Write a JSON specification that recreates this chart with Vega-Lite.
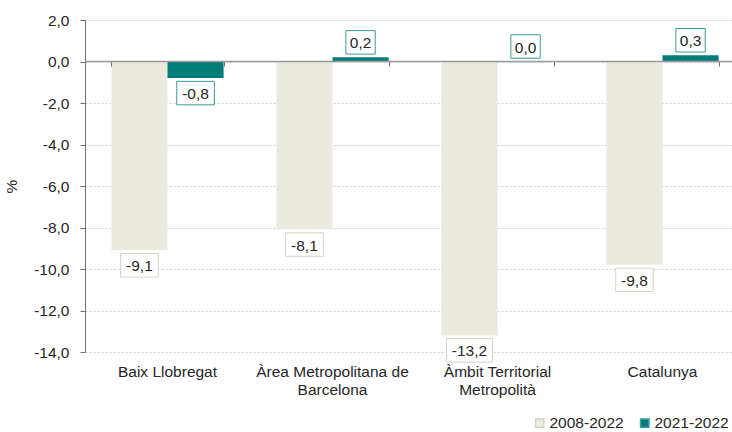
{
  "$schema": "https://vega.github.io/schema/vega-lite/v6.json",
  "autosize": "none",
  "width": 647,
  "height": 332,
  "padding": {"left": 85, "top": 20, "right": 0, "bottom": 80},
  "background": "white",
  "config": {
    "locale": {"number": {"decimal": ",", "thousands": ".", "grouping": [3], "currency": ["", " €"], "minus": "-"}},
    "font": "Liberation Sans",
    "view": {"stroke": null}
  },
  "resolve": {"axis": {"x": "independent"}},
  "data": {
    "values": [
      {"territori": "Baix Llobregat", "periode": "2008-2022", "value": -9.1},
      {"territori": "Baix Llobregat", "periode": "2021-2022", "value": -0.8},
      {"territori": "Àrea Metropolitana de Barcelona", "periode": "2008-2022", "value": -8.1},
      {"territori": "Àrea Metropolitana de Barcelona", "periode": "2021-2022", "value": 0.2},
      {"territori": "Àmbit Territorial Metropolità", "periode": "2008-2022", "value": -13.2},
      {"territori": "Àmbit Territorial Metropolità", "periode": "2021-2022", "value": 0.0},
      {"territori": "Catalunya", "periode": "2008-2022", "value": -9.8},
      {"territori": "Catalunya", "periode": "2021-2022", "value": 0.3}
    ]
  },
  "encoding": {
    "x": {
      "field": "territori", "type": "nominal", "sort": null,
      "scale": {"range": [0, 660], "paddingInner": 0.32, "paddingOuter": 0.16},
      "axis": null
    },
    "xOffset": {"field": "periode", "type": "nominal", "sort": ["2008-2022", "2021-2022"]}
  },
  "layer": [
    {
      "mark": {"type": "bar"},
      "encoding": {
        "x": {
          "field": "territori", "type": "nominal", "sort": null,
          "axis": {
            "orient": "bottom", "title": null, "domain": false, "ticks": false, "labelAngle": 0, "zindex": 1,
            "labelFontSize": 15.5, "labelColor": "#262626", "labelPadding": 12,
            "labelLineHeight": 18, "labelBaseline": "top",
            "labelExpr": "datum.label == 'Àrea Metropolitana de Barcelona' ? ['Àrea Metropolitana de', 'Barcelona'] : datum.label == 'Àmbit Territorial Metropolità' ? ['Àmbit Territorial', 'Metropolità'] : datum.label"
          }
        },
        "y": {
          "field": "value", "type": "quantitative",
          "scale": {"domain": [-14, 2], "nice": false, "zero": false},
          "axis": {
            "title": "%", "titleFontSize": 15.5, "titleFontWeight": "normal", "titleColor": "#262626",
            "titlePadding": 14,
            "values": [-14, -12, -10, -8, -6, -4, -2, 0, 2],
            "format": ".1f", "labelFontSize": 15.5, "labelColor": "#262626", "labelPadding": 11,
            "domainColor": "#707070", "tickColor": "#707070", "tickSize": 5,
            "gridColor": "#cfcfcf", "gridDash": [2, 2]
          }
        },
        "color": {
          "field": "periode", "type": "nominal",
          "scale": {"domain": ["2008-2022", "2021-2022"], "range": ["#ECEADF", "#007D79"]},
          "legend": {
            "title": null, "orient": "none", "direction": "horizontal",
            "legendX": 447, "legendY": 395, "symbolType": "square", "symbolSize": 70,
            "labelFontSize": 15.5, "labelColor": "#262626", "columnPadding": 13, "labelOffset": 2
          }
        }
      }
    },
    {
      "transform": [{"filter": "datum.value >= 0"}],
      "mark": {"type": "text", "fontSize": 15.5, "color": "#262626", "baseline": "middle", "yOffset": -14, "opacity": 0},
      "encoding": {
        "x": {
          "field": "territori", "type": "nominal", "sort": null,
          "axis": {
            "orient": "top", "offset": -41, "labels": false, "title": null, "grid": false, "zindex": 1,
            "domain": true, "domainColor": "#9a9a9a", "domainWidth": 1.5,
            "ticks": true, "tickBand": "extent", "tickSize": -5, "tickColor": "#707070", "tickWidth": 1
          }
        },
        "y": {"field": "value", "type": "quantitative"},
        "text": {"field": "value", "type": "quantitative", "format": ".1f"}
      }
    },
    {
      "transform": [
        {"filter": "datum.value < 0"},
        {"calculate": "length(format(datum.value, '.1f'))", "as": "nch"}
      ],
      "mark": {"type": "point", "filled": false, "fill": "white", "fillOpacity": 1, "opacity": 1, "strokeWidth": 1, "yOffset": 15},
      "encoding": {
        "y": {"field": "value", "type": "quantitative"},
        "shape": {"field": "nch", "type": "ordinal", "legend": null,
          "scale": {"domain": [3, 4, 5], "range": ["M-1.25,-1L1.25,-1L1.25,1L-1.25,1Z", "M-1.6,-1L1.6,-1L1.6,1L-1.6,1Z", "M-1.95,-1L1.95,-1L1.95,1L-1.95,1Z"]}},
        "size": {"value": 552},
        "stroke": {"field": "periode", "type": "nominal", "legend": null,
          "scale": {"domain": ["2008-2022", "2021-2022"], "range": ["#D6D3C4", "#3A9B9B"]}}
      }
    },
    {
      "transform": [
        {"filter": "datum.value >= 0"},
        {"calculate": "length(format(datum.value, '.1f'))", "as": "nch"}
      ],
      "mark": {"type": "point", "filled": false, "fill": "white", "fillOpacity": 1, "opacity": 1, "strokeWidth": 1, "yOffset": -15},
      "encoding": {
        "y": {"field": "value", "type": "quantitative"},
        "shape": {"field": "nch", "type": "ordinal", "legend": null,
          "scale": {"domain": [3, 4, 5], "range": ["M-1.25,-1L1.25,-1L1.25,1L-1.25,1Z", "M-1.6,-1L1.6,-1L1.6,1L-1.6,1Z", "M-1.95,-1L1.95,-1L1.95,1L-1.95,1Z"]}},
        "size": {"value": 552},
        "stroke": {"field": "periode", "type": "nominal", "legend": null,
          "scale": {"domain": ["2008-2022", "2021-2022"], "range": ["#D6D3C4", "#3A9B9B"]}}
      }
    },
    {
      "transform": [{"filter": "datum.value < 0"}],
      "mark": {"type": "text", "fontSize": 15.5, "color": "#262626", "baseline": "middle", "yOffset": 16},
      "encoding": {
        "y": {"field": "value", "type": "quantitative"},
        "text": {"field": "value", "type": "quantitative", "format": ".1f"}
      }
    },
    {
      "transform": [{"filter": "datum.value >= 0"}],
      "mark": {"type": "text", "fontSize": 15.5, "color": "#262626", "baseline": "middle", "yOffset": -14},
      "encoding": {
        "y": {"field": "value", "type": "quantitative"},
        "text": {"field": "value", "type": "quantitative", "format": ".1f"}
      }
    }
  ]
}
